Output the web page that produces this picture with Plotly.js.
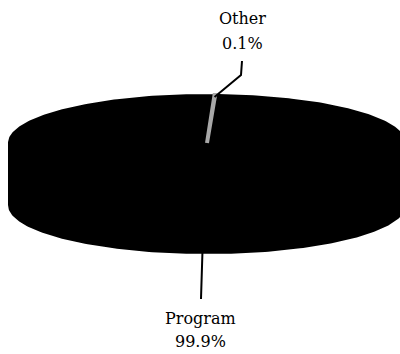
<!DOCTYPE html>
<html><head><meta charset="utf-8">
<script src="https://cdn.plot.ly/plotly-3.0.1.min.js"></script>
<style>html,body{margin:0;padding:0;background:#fff}</style>
</head><body>
<div id="chart" style="width:400px;height:354px"></div>
<script>
// ---- data ----
const categories = ['Other', 'Program'];
const values = [0.1, 99.9];
const pctLabels = ['0.1%', '99.9%'];
const sliceColors = ['#a8a8a8', '#000000'];

// ---- geometry (layout/style) ----
const cx = 207, cy = 143, rx = 198, ry = 48, depth = 62;
const startDeg = -88;
const FONT = 'DejaVu Serif, Liberation Serif, serif';

const total = values.reduce((a, b) => a + b, 0);
const rad = d => d * Math.PI / 180;
const pt = (deg, dy) => [cx + rx * Math.cos(rad(deg)), cy + (dy || 0) + ry * Math.sin(rad(deg))];

const slices = [];
let acc = startDeg;
values.forEach((v, i) => {
  const span = v / total * 360;
  slices.push({a0: acc, a1: acc + span, mid: acc + span / 2, i});
  acc += span;
});

const traces = [];
// side walls (front half: screen angles 0..180)
slices.forEach(s => {
  for (let k = -1; k <= 1; k++) {
    const lo = Math.max(s.a0, 0 + 360 * k), hi = Math.min(s.a1, 180 + 360 * k);
    if (hi <= lo) continue;
    const xs = [], ys = [];
    const n = Math.max(2, Math.ceil((hi - lo) / 1));
    for (let j = 0; j <= n; j++) { const p = pt(lo + (hi - lo) * j / n, 0); xs.push(p[0]); ys.push(p[1]); }
    for (let j = n; j >= 0; j--) { const p = pt(lo + (hi - lo) * j / n, depth); xs.push(p[0]); ys.push(p[1]); }
    traces.push({type: 'scatter', mode: 'lines', x: xs, y: ys, fill: 'toself',
      fillcolor: sliceColors[s.i], line: {color: sliceColors[s.i], width: 2}, hoverinfo: 'skip'});
  }
});
// top faces (largest first so the small slice stays visible)
slices.slice().sort((p, q) => values[q.i] - values[p.i]).forEach(s => {
  const xs = [cx], ys = [cy];
  const n = Math.max(2, Math.ceil((s.a1 - s.a0) / 1));
  for (let j = 0; j <= n; j++) { const p = pt(s.a0 + (s.a1 - s.a0) * j / n, 0); xs.push(p[0]); ys.push(p[1]); }
  xs.push(cx); ys.push(cy);
  traces.push({type: 'scatter', mode: 'lines', x: xs, y: ys, fill: 'toself',
    fillcolor: sliceColors[s.i], line: {color: sliceColors[s.i], width: s.i === 0 ? 4 : 2}, hoverinfo: 'skip'});
});

// leader lines + labels
const annotations = [];
// Other (top)
{
  const s = slices[0];
  const tip = pt(s.mid, 2);
  traces.push({type: 'scatter', mode: 'lines', x: [tip[0], 241, 242], y: [tip[1], 75, 61],
    line: {color: '#000', width: 2}, hoverinfo: 'skip'});
  annotations.push({x: 242, y: 18, text: categories[0], showarrow: false, xref: 'x', yref: 'y',
    font: {family: FONT, size: 16, color: '#000'}});
  annotations.push({x: 242, y: 43, text: pctLabels[0], showarrow: false, xref: 'x', yref: 'y',
    font: {family: FONT, size: 16, color: '#000'}});
}
// Program (bottom)
{
  const s = slices[1];
  const tip = pt(s.mid, depth);
  traces.push({type: 'scatter', mode: 'lines', x: [tip[0] + 3, 201], y: [tip[1] - 2, 299],
    line: {color: '#000', width: 2}, hoverinfo: 'skip'});
  annotations.push({x: 200, y: 318, text: categories[1], showarrow: false, xref: 'x', yref: 'y',
    font: {family: FONT, size: 16, color: '#000'}});
  annotations.push({x: 200, y: 341, text: pctLabels[1], showarrow: false, xref: 'x', yref: 'y',
    font: {family: FONT, size: 16, color: '#000'}});
}

const layout = {
  width: 400, height: 354, margin: {l: 0, r: 0, t: 0, b: 0},
  paper_bgcolor: '#fff', plot_bgcolor: '#fff', showlegend: false, hovermode: false,
  xaxis: {range: [0, 400], visible: false, fixedrange: true},
  yaxis: {range: [354, 0], visible: false, fixedrange: true},
  annotations
};
Plotly.newPlot('chart', traces, layout, {staticPlot: true, displayModeBar: false});
</script>
</body></html>
